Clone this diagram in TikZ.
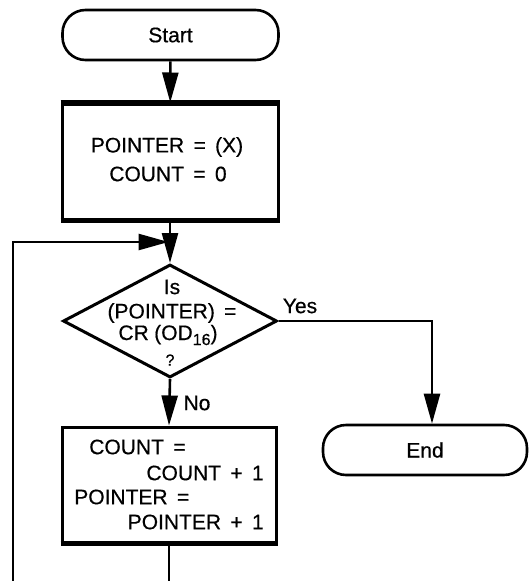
\documentclass[tikz,border=0pt]{standalone}
\usepackage{fontspec}
\setmainfont{Liberation Sans}[WordSpace=1.6, FakeBold=0.5]
\usetikzlibrary{arrows.meta,shapes.geometric}
\begin{document}
\begin{tikzpicture}[x=1pt,y=-1pt,
  line width=2.6pt,
  >={Triangle[length=30pt,width=16pt]},
  term/.style={draw,rounded corners=23pt,minimum width=#1,minimum height=50pt,inner sep=0pt,font=\fontsize{21}{24}\selectfont},
  procbox/.style={draw,inner sep=0pt,line width=3pt},
  txt/.style={inner sep=0pt,font=\fontsize{21}{24}\selectfont},
  thickedge/.style={line width=5pt},
  ]
\useasboundingbox (0,0) rectangle (528,581);
\fill[white] (0,0) rectangle (528,581);

% terminals
\node[term=216pt] (start) at (170.5,35) {Start};
\node[term=204pt] (end) at (425,450) {End};

% box 1
\node[procbox, minimum width=216pt, minimum height=115pt] (b1) at (170,161.5) {};
\draw[thickedge] (b1.north west) -- (b1.north east);
\draw[thickedge] (b1.south west) -- (b1.south east);
\node[txt] (t1a) at (167,147) {POINTER = (X)};
\node[txt] (t1b) at (168,174) {COUNT = 0};

% decision
\node[draw, diamond, minimum width=214pt, minimum height=113pt, inner sep=0pt, line width=3pt] (dec) at (170,321) {};
\node[txt] (q1) at (172,287) {Is};
\node[txt] (q2) at (172,313) {(POINTER) =};
\node[txt] (q3) at (168,335) {CR\hspace{5.5pt}(OD\raisebox{-5pt}{\fontsize{16}{16}\selectfont 16})};
\node[txt, font=\fontsize{16}{18}\selectfont] (q4) at (170,360) {?};

% box 2
\node[procbox, minimum width=214pt, minimum height=115pt] (b2) at (169,484.5) {};
\draw[thickedge] (b2.south west) -- (b2.south east);
\node[txt, anchor=west] (t2a) at (88,447) {COUNT =};
\node[txt, anchor=east] (t2b) at (265,473) {COUNT + 1};
\node[txt, anchor=west] (t2c) at (73,497) {POINTER =};
\node[txt, anchor=east] (t2d) at (265,522) {POINTER + 1};

% labels
\node[txt] (yes) at (300,306) {Yes};
\node[txt] (no) at (197,403) {No};

% connectors
\draw[->] (start) -- (b1);
\draw[->] (b1.south) -- (dec.north);
\coordinate (lb) at (13,581);
\coordinate (lt) at (13,242);
\draw[->, shorten >=1.5pt] (lb) -- (lt) -- (lt -| dec.north);
\draw[->] (dec.south) -- (b2.north);
\coordinate (yc) at (432,321);
\draw[->] (dec.east) -- (yc) -- (yc |- end.north);
\coordinate (bb) at (169,581);
\draw (b2.south) -- (bb);
\end{tikzpicture}
\end{document}
